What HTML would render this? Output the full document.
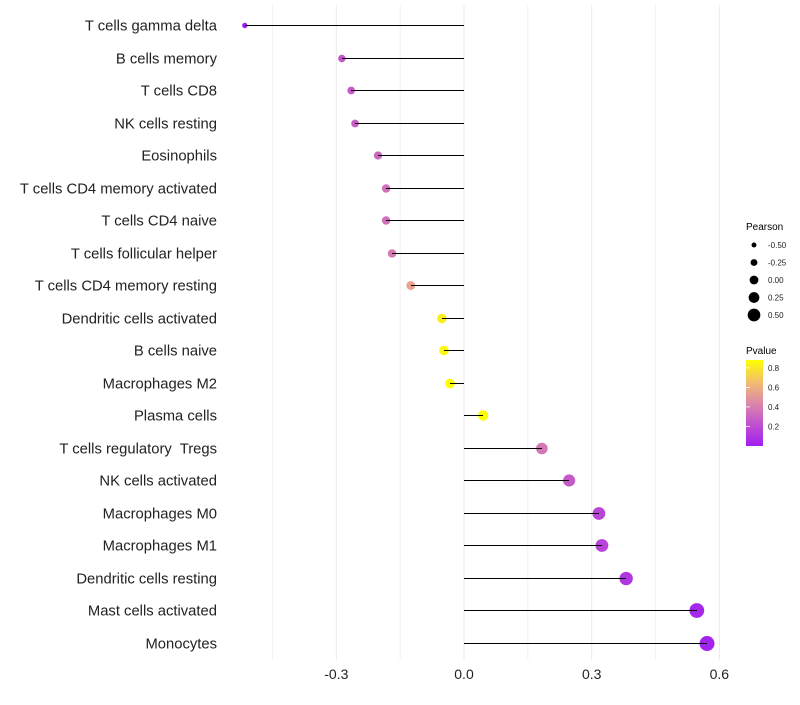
<!DOCTYPE html>
<html><head><meta charset="utf-8"><style>
body{margin:0;background:#fff;}
svg text{font-family:"Liberation Sans",sans-serif;white-space:pre;}
</style></head><body>
<svg id="chart" width="800" height="700">
<defs>
<linearGradient id="pg" x1="0" y1="1" x2="0" y2="0">
<stop offset="0" stop-color="#a020f0"/>
<stop offset="0.25" stop-color="#c050d0"/>
<stop offset="0.5" stop-color="#dc88a8"/>
<stop offset="0.72" stop-color="#f0b878"/>
<stop offset="1" stop-color="#ffff00"/>
</linearGradient>
</defs>
<g id="grid"></g>
<g id="points"></g>
<g id="marks"></g>
<g id="ylabels"></g>
<g id="xticks"></g>
<g>
<text x="746" y="230" font-size="10">Pearson</text>
<g id="sizeLeg"></g>
</g>
<g>
<text x="746" y="354" font-size="10">Pvalue</text>
<rect x="746" y="360" width="17" height="86" fill="url(#pg)"/>
<g id="colLeg"></g>
</g>
</svg>
<script>
const cells = ["T cells gamma delta","B cells memory","T cells CD8","NK cells resting","Eosinophils","T cells CD4 memory activated","T cells CD4 naive","T cells follicular helper","T cells CD4 memory resting","Dendritic cells activated","B cells naive","Macrophages M2","Plasma cells","T cells regulatory  Tregs","NK cells activated","Macrophages M0","Macrophages M1","Dendritic cells resting","Mast cells activated","Monocytes"];
const pearson = [-0.515,-0.287,-0.265,-0.256,-0.202,-0.183,-0.183,-0.169,-0.125,-0.052,-0.047,-0.033,0.045,0.183,0.247,0.317,0.324,0.381,0.547,0.571];
const pvalue = [0.01,0.24,0.26,0.27,0.31,0.34,0.34,0.38,0.55,0.82,0.85,0.88,0.87,0.38,0.26,0.17,0.16,0.1,0.03,0.02];
const xTicks = [-0.3,0,0.3,0.6];
const xTickLabels = ["-0.3","0.0","0.3","0.6"];
const xMinor = [-0.45,-0.15,0.15,0.45];
const sizeLegVals = [-0.5,-0.25,0,0.25,0.5];
const sizeLegLabels = ["-0.50","-0.25","0.00","0.25","0.50"];
const colLegVals = [0.2,0.4,0.6,0.8];

const NS="http://www.w3.org/2000/svg";
const xS=v=>464+v*425.6;
const yS=i=>25+i*32.5;
const rS=v=>Math.max(1.8,5+4.4*v);
const stops=[[0,[160,32,240]],[0.22,[192,80,208]],[0.44,[220,136,168]],[0.63,[240,184,120]],[0.88,[255,255,0]]];
function col(p){p=Math.max(0,Math.min(0.88,p));for(let k=1;k<stops.length;k++){if(p<=stops[k][0]){const a=stops[k-1],b=stops[k],t=(p-a[0])/(b[0]-a[0]);return "rgb("+a[1].map((c,j)=>Math.round(c+(b[1][j]-c)*t)).join(",")+")";}}return "rgb(255,255,0)";}
function mk(tag,attrs,parent){const e=document.createElementNS(NS,tag);for(const k in attrs)e.setAttribute(k,attrs[k]);document.getElementById(parent).appendChild(e);return e;}

xMinor.forEach(v=>{const l=mk("line",{x1:xS(v),x2:xS(v),y1:5,y2:660,stroke:"#f2f2f2","stroke-width":1},"grid");

});
xTicks.forEach((v,i)=>{const l=mk("line",{x1:xS(v),x2:xS(v),y1:5,y2:660,stroke:"#ebebeb","stroke-width":1},"grid");


const t=mk("text",{x:xS(v),y:679,"font-size":14,"text-anchor":"middle",fill:"#222"},"xticks");t.textContent=xTickLabels[i];

});
cells.forEach((c,i)=>{const y=Math.round(yS(i))+0.5;
const t=mk("text",{x:217,y:y+5,"font-size":14.8,"text-anchor":"end",fill:"#222"},"ylabels");t.textContent=c;


const d=mk("circle",{cx:xS(pearson[i]),cy:y,r:rS(pearson[i]),fill:col(pvalue[i])},"points");


const l=mk("line",{x1:xS(0),x2:xS(pearson[i]),y1:y,y2:y,stroke:"#000","stroke-width":1,"shape-rendering":"crispEdges"},"marks");

});
sizeLegVals.forEach((v,i)=>{const y=245+i*17.5;
const d=mk("circle",{cx:754,cy:y,r:Math.max(2,rS(v)*0.88),fill:"#000"},"sizeLeg");


const t=mk("text",{x:768,y:y+3,"font-size":8,fill:"#222"},"sizeLeg");t.textContent=sizeLegLabels[i];

});
colLegVals.forEach(v=>{const y=446-v*97.7;
const l=mk("line",{x1:746,x2:750,y1:y,y2:y,stroke:"#fff","stroke-width":0.8},"colLeg");


const t=mk("text",{x:768,y:y+3,"font-size":8,fill:"#222"},"colLeg");t.textContent=v.toFixed(1);

});
</script>
</body></html>
